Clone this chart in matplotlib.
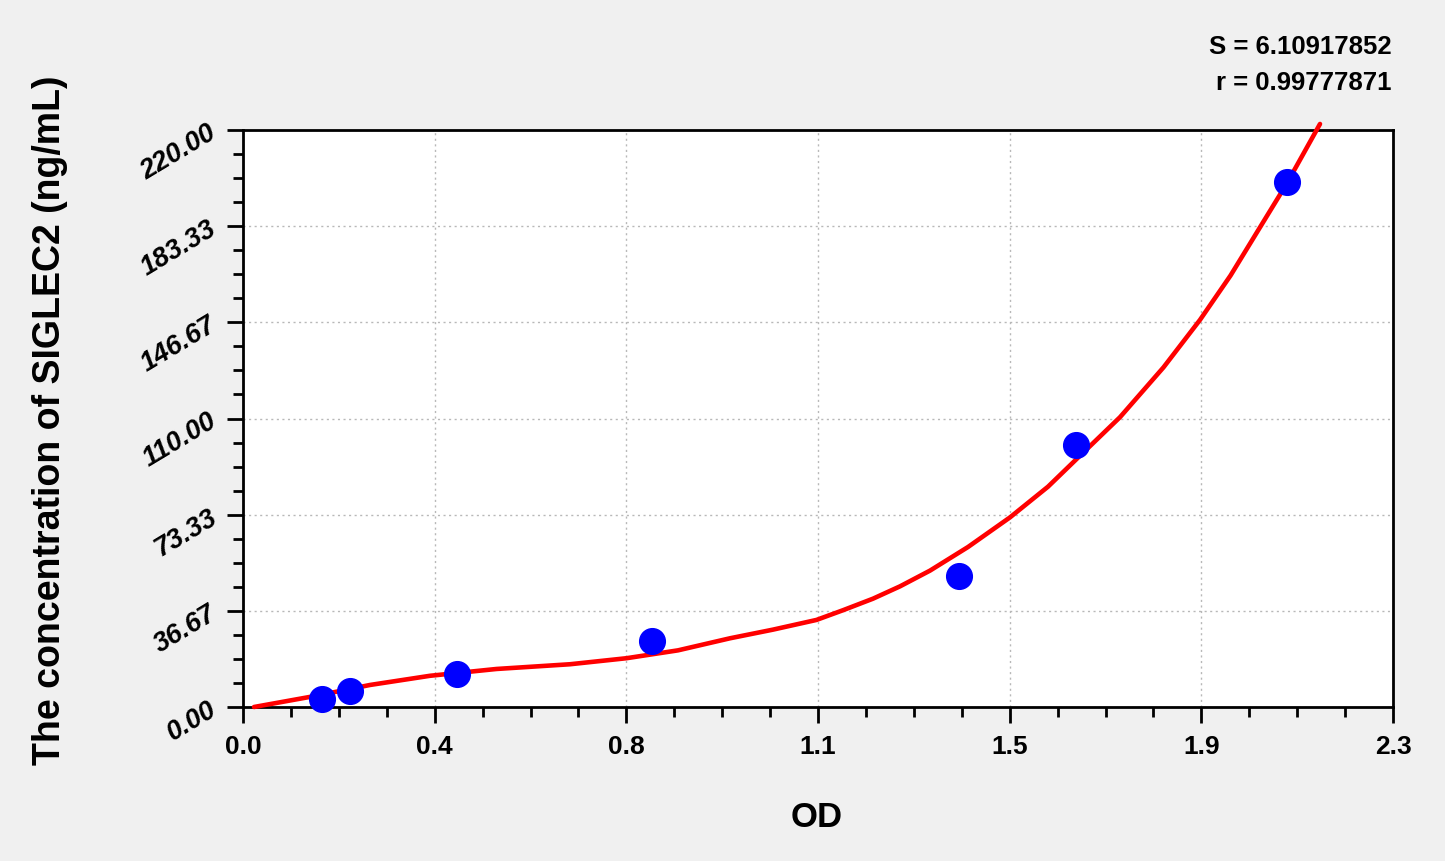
import matplotlib
matplotlib.use('Agg')
import matplotlib.pyplot as plt
import numpy as np
from matplotlib.ticker import AutoMinorLocator

plt.rcParams['font.family'] = ['Liberation Sans', 'DejaVu Sans']

# Standardpunkte (OD, Konzentration)
od_values = [0.158, 0.214, 0.428, 0.818, 1.432, 1.666, 2.088]
conc_values = [3.13, 6.25, 12.5, 25.0, 50.0, 100.0, 200.0]

# Angepasste Kurve
curve_od = [0.022, 0.147, 0.254, 0.374, 0.507, 0.654, 0.767, 0.870, 0.974,
            1.060, 1.147, 1.200, 1.260, 1.314, 1.374, 1.450, 1.534, 1.610, 1.674,
            1.754, 1.841, 1.914, 1.975, 2.034, 2.087, 2.154]
curve_conc = [0.0, 4.3, 8.4, 11.9, 14.5, 16.3, 18.6, 21.6, 26.2,
              29.5, 33.2, 36.9, 41.3, 46.0, 52.0, 61.0, 72.3, 84.0, 95.8,
              110.5, 129.5, 147.6, 164.5, 182.9, 199.4, 222.3]

x_ticks = np.linspace(0, 2.3, 7)
x_tick_labels = ['0.0', '0.4', '0.8', '1.1', '1.5', '1.9', '2.3']
y_ticks = np.linspace(0, 220, 7)
y_tick_labels = ['0.00', '36.67', '73.33', '110.00', '146.67', '183.33', '220.00']

fig = plt.figure(figsize=(14.45, 8.62), dpi=100, facecolor='#f0f0f0')
ax = fig.add_axes([243 / 1445, 1 - 708 / 862, 1150 / 1445, 577 / 862])
ax.set_facecolor('white')

ax.plot(curve_od, curve_conc, color='#ff0000', lw=3.3, clip_on=False, zorder=3,
        solid_capstyle='round', solid_joinstyle='round')
ax.plot(od_values, conc_values, 'o', color='#0000ff', markersize=18.5, zorder=4,
        clip_on=False)

ax.set_xlim(0, 2.3)
ax.set_ylim(0, 220)
ax.set_xticks(x_ticks)
ax.set_xticklabels(x_tick_labels, fontsize=19, fontweight='bold')
ax.set_yticks(y_ticks)
ax.set_yticklabels(y_tick_labels, fontsize=19.5, fontweight='bold', style='italic',
                   rotation=31, ha='right', va='center', rotation_mode='anchor')
ax.xaxis.set_minor_locator(AutoMinorLocator(4))
ax.yaxis.set_minor_locator(AutoMinorLocator(4))
ax.tick_params(which='major', direction='out', length=11.5, width=2, color='black')
ax.tick_params(which='minor', direction='out', length=7.5, width=2, color='black')
ax.tick_params(axis='x', pad=8)
ax.tick_params(axis='y', pad=9)

for spine in ax.spines.values():
    spine.set_linewidth(2)
    spine.set_color('black')

ax.grid(True, which='major', color='#b8b8b8', linestyle=(0, (1.5, 2.5)), linewidth=1)
ax.set_axisbelow(True)

fig.text(817 / 1445, 1 - 818 / 862, 'OD', fontsize=25, fontweight='bold',
         ha='center', va='center')
fig.text(50 / 1445, 1 - 420 / 862, 'The concentration of SIGLEC2 (ng/mL)',
         fontsize=27, fontweight='bold', rotation=90, ha='center', va='center')
fig.text(1392 / 1445, 1 - 47 / 862, 'S = 6.10917852', fontsize=18.5,
         fontweight='bold', ha='right', va='center')
fig.text(1392 / 1445, 1 - 83 / 862, 'r = 0.99777871', fontsize=18.5,
         fontweight='bold', ha='right', va='center')

fig.savefig('out.png', dpi=100, facecolor=fig.get_facecolor())
